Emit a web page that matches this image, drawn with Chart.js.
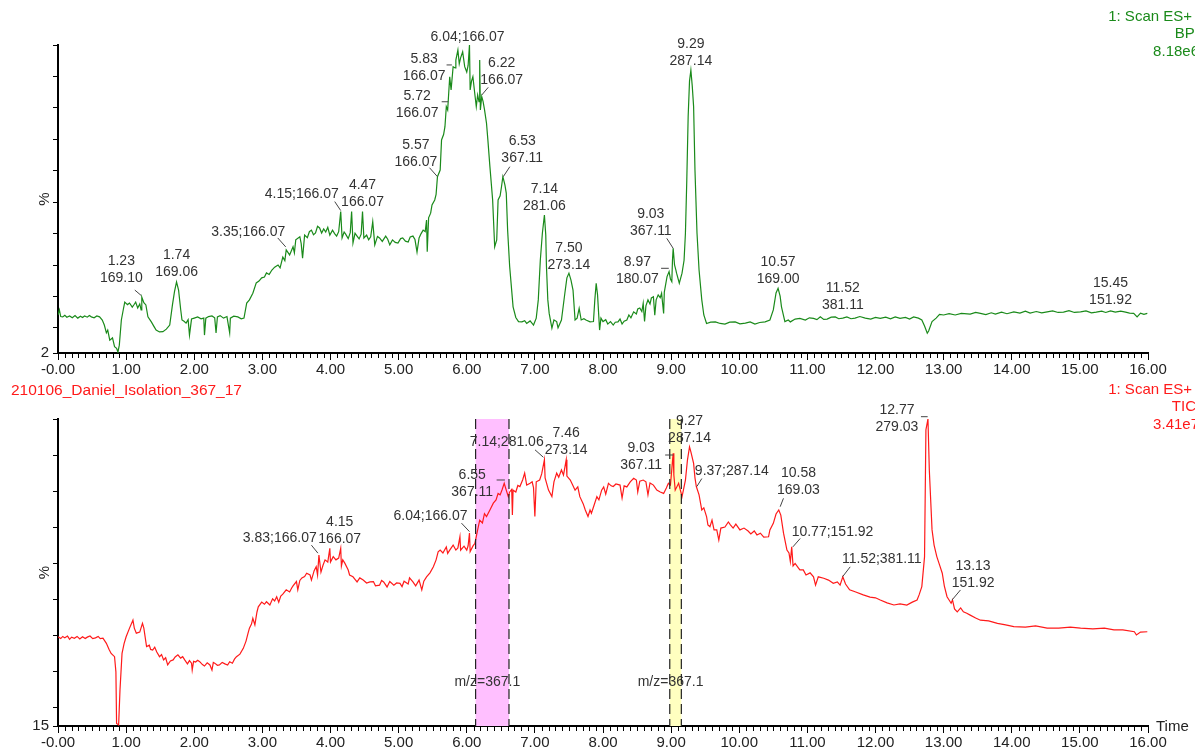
<!DOCTYPE html>
<html>
<head>
<meta charset="utf-8">
<title>210106_Daniel_Isolation_367_17</title>
<script src="https://cdn.jsdelivr.net/npm/chart.js@4.4.1/dist/chart.umd.min.js"></script>
<style>
  html, body { margin: 0; padding: 0; background: #fff; }
  #wrap { position: relative; width: 1195px; height: 751px; overflow: hidden; }
  canvas { position: absolute; left: 0; }
  #bpi { top: 0; }
  #tic { top: 383px; }
</style>
</head>
<body>
<div id="wrap">
  <canvas id="bpi" width="1195" height="383"></canvas>
  <canvas id="tic" width="1195" height="368"></canvas>
</div>
<script>
// BPI trace, [time (min), % of 8.18e6]
const bpiTrace = [
  [0.00,14.1],[0.02,15.7],[0.04,13.6],[0.07,13.5],[0.10,14.0],[0.13,13.4],[0.17,13.8],[0.21,13.2],[0.25,13.9],[0.29,13.1],
  [0.33,13.7],[0.36,13.3],[0.39,13.8],[0.43,13.4],[0.46,13.9],[0.49,13.5],[0.53,13.2],[0.57,13.8],[0.61,13.5],[0.65,12.5],
  [0.68,10.9],[0.71,8.4],[0.73,9.3],[0.76,6.1],[0.80,6.8],[0.83,4.0],[0.86,3.5],[0.88,2.3],[0.90,4.5],[0.93,12.5],
  [0.96,16.0],[0.98,18.2],[1.02,17.4],[1.05,17.9],[1.09,16.6],[1.12,17.5],[1.14,18.2],[1.17,16.3],[1.20,17.6],[1.22,15.7],
  [1.23,19.8],[1.26,18.0],[1.29,17.3],[1.32,13.5],[1.37,11.9],[1.41,10.4],[1.44,9.3],[1.49,8.7],[1.54,8.8],[1.59,9.6],
  [1.64,10.9],[1.68,17.3],[1.71,21.5],[1.74,24.6],[1.77,22.0],[1.80,16.0],[1.82,12.5],[1.85,12.1],[1.88,11.5],[1.91,12.6],
  [1.93,7.7],[1.96,12.8],[2.00,13.1],[2.05,13.5],[2.10,12.9],[2.14,13.1],[2.15,7.7],[2.17,13.1],[2.21,13.6],[2.26,13.8],
  [2.30,13.2],[2.32,8.4],[2.34,13.5],[2.38,13.9],[2.43,13.1],[2.48,13.6],[2.52,8.4],[2.53,13.1],[2.58,13.7],[2.64,13.5],
  [2.69,12.9],[2.73,13.1],[2.77,17.9],[2.81,18.9],[2.86,21.0],[2.91,24.3],[2.95,24.9],[2.99,25.9],[3.03,26.2],[3.06,27.5],
  [3.10,27.0],[3.14,28.4],[3.18,29.3],[3.23,30.0],[3.26,29.1],[3.30,32.5],[3.33,31.4],[3.35,34.8],[3.40,33.2],[3.45,35.8],
  [3.47,33.9],[3.49,38.0],[3.55,39.0],[3.57,36.8],[3.59,32.2],[3.62,39.5],[3.66,38.7],[3.69,40.6],[3.72,41.1],[3.75,39.6],
  [3.78,40.2],[3.81,42.3],[3.84,41.8],[3.87,40.2],[3.90,41.5],[3.93,40.5],[3.96,42.0],[3.99,39.5],[4.03,41.1],[4.06,40.0],
  [4.09,39.2],[4.12,40.6],[4.15,47.0],[4.17,38.6],[4.20,40.5],[4.22,39.9],[4.26,38.4],[4.29,40.3],[4.31,47.0],[4.33,37.0],
  [4.36,40.1],[4.39,39.2],[4.42,38.3],[4.45,39.8],[4.47,47.0],[4.49,38.6],[4.53,39.5],[4.56,38.0],[4.59,39.0],[4.62,43.8],
  [4.65,36.4],[4.69,39.1],[4.72,38.6],[4.76,37.5],[4.81,39.2],[4.84,38.2],[4.87,36.4],[4.91,38.0],[4.95,37.2],[4.99,37.0],
  [5.03,38.4],[5.06,38.6],[5.10,37.6],[5.14,37.3],[5.17,38.9],[5.21,39.2],[5.24,38.1],[5.27,34.1],[5.30,38.6],[5.33,40.0],
  [5.36,41.1],[5.39,40.6],[5.41,44.3],[5.42,34.2],[5.44,45.0],[5.47,46.5],[5.49,49.1],[5.53,50.7],[5.55,52.5],[5.57,58.1],
  [5.61,60.2],[5.63,69.8],[5.66,71.5],[5.68,74.0],[5.70,80.4],[5.72,79.3],[5.75,89.9],[5.77,85.7],[5.80,93.1],[5.83,92.7],
  [5.84,95.2],[5.87,98.4],[5.89,94.0],[5.91,95.9],[5.94,97.8],[5.97,93.1],[6.00,91.4],[6.02,93.5],[6.04,100],[6.05,85.7],
  [6.07,88.5],[6.09,89.9],[6.12,84.1],[6.14,80.4],[6.16,84.1],[6.18,82.0],[6.19,95.2],[6.20,79.3],[6.22,83.6],[6.24,82.0],
  [6.26,79.5],[6.29,75.1],[6.31,69.8],[6.34,61.3],[6.36,56.0],[6.38,50.7],[6.41,35.8],[6.44,38.0],[6.46,50.7],[6.49,52.0],
  [6.51,54.9],[6.53,58.1],[6.56,55.5],[6.58,52.9],[6.60,41.1],[6.63,29.5],[6.68,16.7],[6.72,13.3],[6.76,12.0],[6.81,11.9],
  [6.85,12.3],[6.88,11.4],[6.93,12.2],[6.98,10.9],[7.02,13.1],[7.05,18.9],[7.08,31.6],[7.11,40.1],[7.14,45.9],[7.16,39.5],
  [7.17,29.5],[7.19,18.9],[7.21,14.6],[7.25,9.9],[7.28,12.5],[7.32,12.0],[7.34,10.0],[7.39,12.5],[7.44,21.0],[7.47,25.9],
  [7.50,27.4],[7.53,25.2],[7.56,22.0],[7.59,12.5],[7.62,13.1],[7.65,16.2],[7.68,12.5],[7.72,12.9],[7.75,12.5],[7.81,11.9],
  [7.86,12.0],[7.88,18.9],[7.90,24.2],[7.92,20.5],[7.95,9.3],[7.97,13.1],[8.00,12.0],[8.04,12.6],[8.07,11.2],[8.11,12.0],
  [8.15,10.9],[8.18,11.8],[8.22,11.9],[8.25,12.8],[8.28,11.2],[8.31,12.1],[8.35,12.5],[8.38,14.1],[8.41,13.2],[8.45,15.1],
  [8.49,14.4],[8.51,16.0],[8.54,16.3],[8.57,15.2],[8.59,17.8],[8.61,12.0],[8.63,17.0],[8.66,18.9],[8.69,17.6],[8.71,19.5],
  [8.74,19.9],[8.76,14.0],[8.78,18.9],[8.81,20.5],[8.84,19.6],[8.86,21.0],[8.89,14.6],[8.90,21.4],[8.94,26.3],[8.97,27.9],
  [8.99,25.5],[9.01,24.7],[9.02,31.6],[9.03,35.3],[9.05,30.0],[9.07,28.4],[9.08,27.4],[9.12,24.2],[9.16,27.4],[9.19,31.5],
  [9.21,40.1],[9.23,57.0],[9.25,77.2],[9.27,88.5],[9.29,92.0],[9.31,87.0],[9.33,80.4],[9.35,60.2],[9.38,40.1],[9.41,28.4],
  [9.45,18.9],[9.48,14.1],[9.52,11.4],[9.58,11.8],[9.65,11.9],[9.72,11.4],[9.79,11.2],[9.86,11.8],[9.94,11.9],[10.01,11.3],
  [10.09,11.5],[10.16,11.9],[10.23,11.2],[10.30,11.7],[10.38,11.9],[10.45,12.5],[10.50,15.7],[10.54,21.1],[10.57,22.6],[10.60,20.1],
  [10.62,16.7],[10.67,12.0],[10.72,12.5],[10.75,11.9],[10.82,12.8],[10.89,13.0],[10.97,12.5],[11.03,13.2],[11.09,13.0],[11.14,12.6],
  [11.19,13.5],[11.24,12.7],[11.29,12.8],[11.35,13.4],[11.41,13.5],[11.46,12.9],[11.52,13.1],[11.58,13.5],[11.64,12.9],[11.70,13.1],
  [11.77,13.6],[11.85,13.1],[11.93,12.8],[12.00,13.3],[12.07,13.0],[12.15,13.4],[12.22,12.9],[12.29,13.5],[12.36,13.0],[12.44,13.3],
  [12.50,12.8],[12.56,13.5],[12.63,13.1],[12.68,12.5],[12.72,10.6],[12.76,8.3],[12.78,9.0],[12.83,12.0],[12.89,13.1],[12.94,14.3],
  [13.00,14.1],[13.08,14.5],[13.17,14.1],[13.26,14.6],[13.39,14.4],[13.47,14.9],[13.54,14.6],[13.62,14.2],[13.70,14.8],[13.76,14.4],
  [13.85,15.0],[13.93,14.5],[14.03,15.1],[14.12,14.7],[14.20,15.3],[14.27,14.7],[14.36,15.2],[14.44,14.8],[14.52,15.1],[14.60,15.4],
  [14.68,14.9],[14.76,15.0],[14.84,15.5],[14.92,14.9],[15.01,15.1],[15.09,15.4],[15.17,14.8],[15.24,15.0],[15.32,15.3],[15.38,14.9],
  [15.45,15.4],[15.52,15.0],[15.60,15.3],[15.67,15.0],[15.73,14.7],[15.79,14.6],[15.84,13.5],[15.89,14.7],[15.94,14.3],[15.99,14.6]
];

// TIC trace, [time (min), % of 3.41e7]
const ticTrace = [
  [0.00,39.7],[0.04,39.2],[0.07,39.8],[0.10,39.4],[0.14,39.9],[0.17,39.0],[0.20,39.6],[0.24,39.3],[0.28,39.8],[0.32,39.1],
  [0.36,39.7],[0.40,39.2],[0.43,39.6],[0.47,39.9],[0.51,39.2],[0.55,39.4],[0.59,39.8],[0.62,39.2],[0.66,39.3],[0.71,37.9],
  [0.75,36.2],[0.78,35.1],[0.83,34.2],[0.85,30.0],[0.86,15.7],[0.89,15.3],[0.91,25.0],[0.94,35.1],[0.97,37.8],[1.00,39.7],
  [1.05,42.1],[1.10,44.3],[1.12,42.1],[1.15,40.7],[1.20,41.0],[1.24,43.4],[1.26,42.1],[1.30,37.0],[1.34,37.4],[1.36,36.2],
  [1.39,36.0],[1.42,36.8],[1.45,35.5],[1.49,34.2],[1.52,34.8],[1.55,33.3],[1.58,33.9],[1.61,31.9],[1.65,33.0],[1.69,33.3],
  [1.72,34.1],[1.76,34.7],[1.80,33.8],[1.83,34.2],[1.86,33.3],[1.90,32.2],[1.93,33.1],[1.96,32.4],[1.97,30.5],[1.99,32.9],
  [2.02,32.7],[2.05,33.2],[2.08,32.8],[2.12,32.0],[2.15,31.6],[2.19,32.5],[2.23,31.9],[2.26,30.5],[2.28,32.6],[2.30,32.4],
  [2.34,31.8],[2.37,31.9],[2.41,32.6],[2.45,32.2],[2.49,31.9],[2.52,32.8],[2.56,32.4],[2.59,33.5],[2.62,34.2],[2.67,34.9],
  [2.72,36.5],[2.76,38.5],[2.79,40.7],[2.81,42.1],[2.84,43.2],[2.86,44.8],[2.89,43.0],[2.92,46.5],[2.94,48.0],[2.99,49.3],
  [3.03,48.7],[3.06,49.4],[3.11,48.5],[3.15,50.2],[3.18,49.6],[3.21,50.8],[3.24,49.3],[3.27,51.0],[3.30,51.5],[3.35,52.7],
  [3.40,52.1],[3.43,53.2],[3.45,53.8],[3.50,55.0],[3.52,52.7],[3.55,55.3],[3.58,56.0],[3.62,56.4],[3.65,57.3],[3.70,56.8],
  [3.72,55.4],[3.76,58.0],[3.79,59.1],[3.81,56.8],[3.83,62.3],[3.86,57.6],[3.89,59.5],[3.92,61.0],[3.96,60.4],[3.99,64.2],
  [4.00,60.4],[4.04,61.9],[4.08,61.0],[4.12,61.5],[4.15,64.2],[4.16,59.3],[4.18,61.0],[4.21,60.1],[4.26,58.2],[4.28,56.8],
  [4.33,56.3],[4.36,55.6],[4.39,54.9],[4.43,56.0],[4.48,55.4],[4.53,54.6],[4.58,54.9],[4.63,55.0],[4.66,53.8],[4.72,54.0],
  [4.75,55.3],[4.78,54.9],[4.83,53.5],[4.87,55.0],[4.93,54.0],[4.97,54.6],[5.02,54.5],[5.05,53.6],[5.08,55.1],[5.14,54.3],
  [5.16,56.0],[5.21,54.9],[5.25,53.8],[5.30,55.4],[5.34,52.7],[5.37,55.1],[5.41,56.3],[5.46,57.4],[5.51,59.1],[5.55,61.0],
  [5.58,63.2],[5.61,63.7],[5.65,62.9],[5.70,64.6],[5.72,62.8],[5.75,63.7],[5.80,65.1],[5.84,63.7],[5.87,64.3],[5.90,67.4],
  [5.91,63.7],[5.96,64.8],[6.00,63.7],[6.02,64.9],[6.04,68.4],[6.05,63.3],[6.09,64.8],[6.12,65.6],[6.16,69.3],[6.19,72.0],
  [6.23,71.2],[6.26,73.8],[6.29,73.0],[6.34,74.8],[6.39,76.7],[6.43,77.6],[6.46,79.4],[6.49,79.0],[6.52,80.5],[6.55,82.2],
  [6.58,80.3],[6.61,78.5],[6.63,79.8],[6.66,80.5],[6.67,73.4],[6.68,80.3],[6.72,79.8],[6.75,81.6],[6.78,81.3],[6.82,83.1],
  [6.85,85.0],[6.88,81.7],[6.93,82.2],[6.96,82.6],[6.98,81.0],[7.00,73.0],[7.02,82.6],[7.07,83.1],[7.10,84.8],[7.14,88.7],
  [7.15,83.7],[7.20,80.3],[7.25,78.5],[7.28,82.6],[7.32,85.0],[7.35,83.9],[7.39,85.9],[7.42,84.5],[7.46,88.7],[7.47,84.2],
  [7.52,83.1],[7.56,81.5],[7.59,80.3],[7.63,81.2],[7.66,78.5],[7.71,76.5],[7.74,74.8],[7.78,73.0],[7.81,74.8],[7.83,73.9],
  [7.87,76.2],[7.91,78.5],[7.94,77.6],[7.98,80.3],[8.01,81.2],[8.04,79.2],[8.08,82.2],[8.12,81.5],[8.15,81.3],[8.19,82.0],
  [8.25,81.7],[8.28,78.1],[8.31,81.5],[8.35,81.2],[8.40,82.6],[8.45,83.6],[8.49,83.1],[8.51,79.8],[8.54,82.8],[8.59,83.1],
  [8.63,82.6],[8.66,79.0],[8.69,82.3],[8.74,81.7],[8.79,80.3],[8.84,79.8],[8.89,79.4],[8.93,80.9],[8.96,82.2],[8.99,81.7],
  [9.03,90.5],[9.04,84.5],[9.06,80.3],[9.11,82.2],[9.16,78.5],[9.18,80.3],[9.21,83.1],[9.24,88.7],[9.27,92.3],[9.29,90.9],
  [9.33,87.7],[9.35,83.7],[9.37,81.3],[9.41,79.0],[9.45,74.8],[9.48,75.4],[9.52,73.0],[9.54,70.7],[9.57,70.2],[9.60,72.0],
  [9.63,69.3],[9.67,69.3],[9.70,66.5],[9.73,69.8],[9.79,70.1],[9.84,71.5],[9.87,70.7],[9.91,69.8],[9.95,70.9],[10.01,69.3],
  [10.07,69.8],[10.13,69.0],[10.17,68.2],[10.22,69.0],[10.26,67.9],[10.31,68.4],[10.36,67.3],[10.43,67.4],[10.45,69.3],[10.50,71.1],
  [10.54,73.7],[10.58,74.8],[10.61,73.4],[10.65,68.4],[10.70,63.7],[10.73,62.9],[10.75,60.5],[10.77,64.6],[10.79,59.3],[10.82,60.0],
  [10.87,58.7],[10.89,58.2],[10.94,58.2],[10.98,56.8],[11.04,57.4],[11.09,56.3],[11.12,54.0],[11.16,56.3],[11.24,55.9],[11.31,55.4],
  [11.38,54.5],[11.44,54.9],[11.48,54.0],[11.52,56.3],[11.56,54.3],[11.62,52.7],[11.71,52.1],[11.82,51.3],[11.92,50.7],[12.00,50.5],
  [12.07,49.9],[12.17,49.1],[12.27,48.5],[12.36,48.8],[12.46,48.5],[12.54,49.3],[12.61,49.9],[12.64,51.3],[12.68,53.6],[12.72,61.9],
  [12.74,97.0],[12.77,100],[12.79,85.9],[12.83,69.3],[12.86,65.1],[12.90,61.9],[12.94,59.6],[12.98,57.3],[13.01,53.8],[13.05,50.8],
  [13.08,49.9],[13.11,49.0],[13.13,49.9],[13.16,47.4],[13.20,46.6],[13.25,47.7],[13.29,46.6],[13.34,46.2],[13.39,45.7],[13.47,44.9],
  [13.54,44.3],[13.66,44.1],[13.79,43.4],[13.91,43.0],[14.03,42.5],[14.20,42.4],[14.35,42.7],[14.52,42.1],[14.69,42.1],[14.86,42.4],
  [15.01,42.1],[15.19,41.9],[15.36,42.1],[15.50,41.6],[15.63,41.6],[15.80,41.1],[15.83,40.2],[15.89,41.0],[15.99,41.1]
];

// labelled peaks: retention time and base m/z
const bpiPeakTimes = [1.23, 1.74, 3.35, 4.15, 4.47, 5.57, 5.72, 5.83, 6.04, 6.22, 6.53, 7.14, 7.50, 8.97, 9.03, 9.29, 10.57, 11.52, 15.45];
const bpiPeakMz = ['169.10','169.06','166.07','166.07','166.07','166.07','166.07','166.07','166.07','166.07','367.11','281.06','273.14','180.07','367.11','287.14','169.00','381.11','151.92'];
const ticPeakTimes = [3.83, 4.15, 6.04, 6.55, 7.14, 7.46, 9.03, 9.27, 9.37, 10.58, 10.77, 11.52, 12.77, 13.13];
const ticPeakMz = ['166.07','166.07','166.07','367.11','281.06','273.14','367.11','287.14','287.14','169.03','151.92','381.11','279.03','151.92'];

// m/z 367.1 collection windows (min)
const windowStart = [6.13, 8.98];
const windowEnd = [6.62, 9.15];
const windowLabel = 'm/z=367.1';

const xTicks = [0, 1, 2, 3, 4, 5, 6, 7, 8, 9, 10, 11, 12, 13, 14, 15, 16];
const bpiYTicks = [2, 10, 20, 30, 40, 50, 60, 70, 80, 90, 100];
const ticYTicks = [15, 20, 30, 40, 50, 60, 70, 80, 90, 100];

// label placement: [dx, dy, one-line, leader [x1,y1,x2,y2]] in px from the peak
const bpiPlace = [
  [-20.5, -19, 0, [-7, -7, -0.5, -1.5]], [0, -10, 0, null], [-38, -18, 1, [-8.5, -12, -0.5, -3]],
  [-39, -17, 1, [-6, -10, 0, -1]], [0, -9, 0, null], [-21.6, -14.7, 0, [-8, -9, 0, 0]],
  [-30.5, 3, 0, [-6, -8.3, 0.5, -8.3]], [-31, 8, 0, [-8.6, -3, -3.3, -3]], [-2, -8, 1, null],
  [20, -16.5, 0, [6.5, -9.2, 0, -1.5]], [19.4, -18.7, 0, [7, -10, 0.4, 0]], [0, -9, 0, null],
  [0, -8, 0, null], [-31.7, 7.4, 0, [-8, -3.3, -0.3, -3.3]], [-22.4, -17.3, 0, [-6.4, -10, 0, 0]],
  [0, -9, 0, null], [0, -9, 0, null], [0, -13, 0, null], [0, -11, 0, null]
];
const ticPlace = [
  [-39.2, -17, 1, [-7.5, -10, -1, -2]], [-1, -9, 0, null], [-39, -17.4, 1, [-8, -10, 0, -1.5]],
  [-32, 8.4, 0, [-7.6, -3.3, 0.7, -3.3]], [-37.7, -18, 1, [-9.4, -10, -1, -2.5]], [0, -10, 0, null],
  [-32, 11.7, 0, [-8, 1.7, 0.2, 1.7]], [0, -9, 0, null], [35.5, -15, 1, [5.5, -8, 0.5, 0]],
  [19.7, -20, 0, [4.7, -11.7, 1.4, -3.3]], [40.8, -15, 1, [8.5, -8.4, 1.2, 0]], [39, -17.4, 1, [7.4, -10, -0.3, 0]],
  [-31, 8.3, 0, [-7, -2.3, -0.3, -2.3]], [20.6, -16.7, 0, [8, -10, -0.4, 0]]
];

const FONT = '"Liberation Sans", Arial, Helvetica, sans-serif';
const GREEN = '#1a8a1a';
const RED = '#ff1a1a';
const INK = '#333333';

Chart.defaults.font.family = FONT;
Chart.defaults.color = '#222';

function valueAt(trace, t) {
  let best = trace[0];
  for (const p of trace) if (Math.abs(p[0] - t) < Math.abs(best[0] - t)) best = p;
  return best[1];
}

function text(ctx, s, x, y, color, size, align) {
  ctx.save();
  ctx.font = size + 'px ' + FONT;
  ctx.fillStyle = color;
  ctx.textAlign = align || 'center';
  ctx.textBaseline = 'middle';
  ctx.fillText(s, x, y);
  ctx.restore();
}

function chromPlugin(cfg) {
  return {
    id: 'chrom',
    beforeDatasetsDraw(chart) {
      const { ctx, chartArea: a, scales: { x } } = chart;
      (cfg.windows || []).forEach(w => {
        const x1 = x.getPixelForValue(w.from), x2 = x.getPixelForValue(w.to);
        ctx.fillStyle = w.color;
        ctx.fillRect(x1, a.top, x2 - x1, a.bottom - a.top);
      });
    },
    afterDatasetsDraw(chart) {
      const { ctx, chartArea: a, scales: { x, y } } = chart;
      // collection window edges and labels
      (cfg.windows || []).forEach(w => {
        const x1 = x.getPixelForValue(w.from), x2 = x.getPixelForValue(w.to);
        text(ctx, windowLabel, (x1 + x2) / 2 - 5, a.bottom - 44, INK, 14);
        ctx.save();
        ctx.strokeStyle = '#222';
        ctx.lineWidth = 1.2;
        ctx.setLineDash([10, 5]);
        [x1, x2].forEach(px => {
          ctx.beginPath();
          ctx.moveTo(px, a.top);
          ctx.lineTo(px, a.bottom);
          ctx.stroke();
        });
        ctx.restore();
      });
      // peak annotations
      cfg.peakTimes.forEach((t, i) => {
        const [dx, dy, inline, lead] = cfg.place[i];
        const ax = x.getPixelForValue(t);
        const ay = y.getPixelForValue(valueAt(cfg.trace, t));
        const ts = t.toFixed(2);
        if (inline) {
          text(ctx, ts + ';' + cfg.peakMz[i], ax + dx, ay + dy, INK, 14);
        } else {
          text(ctx, ts, ax + dx, ay + dy - 17, INK, 14);
          text(ctx, cfg.peakMz[i], ax + dx, ay + dy, INK, 14);
        }
        if (lead) {
          ctx.save();
          ctx.strokeStyle = '#444';
          ctx.lineWidth = 1;
          ctx.beginPath();
          ctx.moveTo(ax + lead[0], ay + lead[1]);
          ctx.lineTo(ax + lead[2], ay + lead[3]);
          ctx.stroke();
          ctx.restore();
        }
      });
    },
    afterDraw(chart) {
      const { ctx, chartArea: a, scales: { x } } = chart;
      // minor time ticks every 0.1 min
      ctx.save();
      ctx.strokeStyle = '#000';
      ctx.lineWidth = 1;
      ctx.beginPath();
      for (let i = 0; i <= 160; i++) {
        if (i % 10 === 0) continue;
        const px = Math.round(x.getPixelForValue(i / 10)) + 0.5;
        ctx.moveTo(px, a.bottom + 1);
        ctx.lineTo(px, a.bottom + 5);
      }
      ctx.stroke();
      ctx.restore();
      // rotated % on the intensity axis
      ctx.save();
      ctx.translate(a.left - 13, (a.top + a.bottom) / 2);
      ctx.rotate(-Math.PI / 2);
      text(ctx, '%', 0, 0, '#222', 15);
      ctx.restore();
      cfg.texts.forEach(tx => text(ctx, tx.s, tx.x, tx.y, tx.color, tx.size || 15, tx.align));
    }
  };
}

function makeChart(id, trace, color, yMin, yTicks, padTop, xHeight, cfg) {
  return new Chart(document.getElementById(id), {
    type: 'line',
    data: {
      datasets: [{
        data: trace.map(p => ({ x: p[0], y: p[1] })),
        borderColor: color,
        borderWidth: 1.2,
        pointRadius: 0,
        tension: 0,
        fill: false
      }]
    },
    options: {
      responsive: false,
      animation: false,
      devicePixelRatio: 1,
      layout: { padding: { top: padTop, right: 47, bottom: 0, left: 0 } },
      plugins: { legend: { display: false }, tooltip: { enabled: false } },
      scales: {
        x: {
          type: 'linear', min: 0, max: 16,
          afterBuildTicks: s => { s.ticks = xTicks.map(v => ({ value: v })); },
          ticks: {
            autoSkip: false, maxRotation: 0, padding: 1,
            font: { size: 15 }, color: '#222',
            callback: v => v === 0 ? '-0.00' : Number(v).toFixed(2)
          },
          grid: { drawOnChartArea: false, tickLength: 7, color: '#000' },
          border: { color: '#000', width: 2 },
          afterFit: s => { s.height = xHeight; }
        },
        y: {
          type: 'linear', min: yMin, max: 100,
          afterBuildTicks: s => { s.ticks = yTicks.map(v => ({ value: v })); },
          ticks: {
            autoSkip: false, padding: 4, font: { size: 15 }, color: '#222',
            callback: v => v === yMin ? String(yMin) : ''
          },
          grid: { drawOnChartArea: false, tickLength: 5, color: '#000' },
          border: { color: '#000', width: 2 },
          afterFit: s => { s.width = 58; }
        }
      }
    },
    plugins: [chromPlugin(cfg)]
  });
}

makeChart('bpi', bpiTrace, GREEN, 2, bpiYTicks, 45, 30, {
  trace: bpiTrace, peakTimes: bpiPeakTimes, peakMz: bpiPeakMz, place: bpiPlace,
  texts: [
    { s: '1: Scan ES+', x: 1192, y: 17, color: GREEN, align: 'right' },
    { s: 'BPI', x: 1199, y: 34, color: GREEN, align: 'right' },
    { s: '8.18e6', x: 1199, y: 52, color: GREEN, align: 'right' }
  ]
});

makeChart('tic', ticTrace, RED, 15, ticYTicks, 36, 25, {
  trace: ticTrace, peakTimes: ticPeakTimes, peakMz: ticPeakMz, place: ticPlace,
  windows: [
    { from: windowStart[0], to: windowEnd[0], color: '#ffbfff' },
    { from: windowStart[1], to: windowEnd[1], color: '#ffffc0' }
  ],
  texts: [
    { s: '210106_Daniel_Isolation_367_17', x: 11, y: 8, color: RED, align: 'left', size: 15.5 },
    { s: '1: Scan ES+', x: 1192, y: 7, color: RED, align: 'right' },
    { s: 'TIC', x: 1196, y: 24, color: RED, align: 'right' },
    { s: '3.41e7', x: 1199, y: 42, color: RED, align: 'right' },
    { s: 'Time', x: 1156, y: 344, color: '#222', align: 'left' }
  ]
});
</script>
</body>
</html>
